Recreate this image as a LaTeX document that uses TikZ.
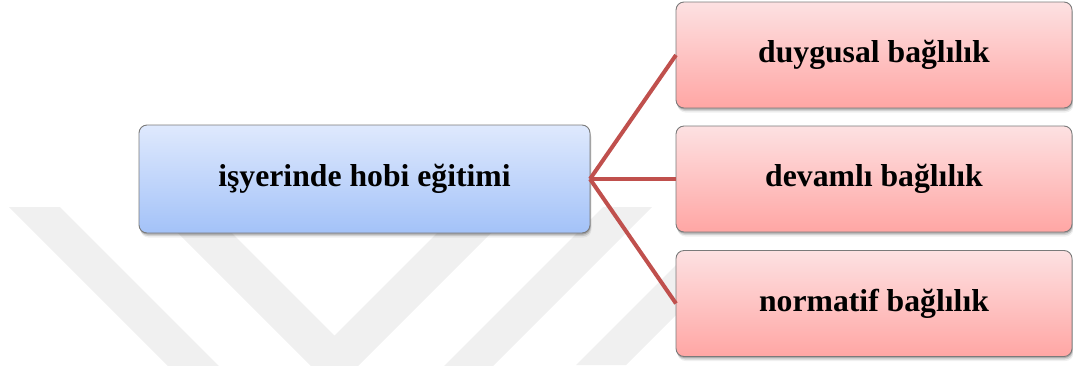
\documentclass[tikz,border=0pt]{standalone}
\usepackage{fontspec}
\setmainfont{Liberation Serif}
\usetikzlibrary{shadows}

\definecolor{linkred}{HTML}{C0504D}
\definecolor{bluetop}{HTML}{DFE9FD}
\definecolor{bluebot}{HTML}{A3C2F8}
\definecolor{pinktop}{HTML}{FDE1E2}
\definecolor{pinkbot}{HTML}{FFA6A4}
\definecolor{wmgray}{HTML}{F0F0F0}

\begin{document}
\begin{tikzpicture}[x=1pt,y=-1pt,
  softshadow/.style={
    drop shadow={shadow xshift=0.5pt, shadow yshift=-1.5pt, opacity=0.18, fill=black},
    drop shadow={shadow xshift=1pt, shadow yshift=-3pt, opacity=0.12, fill=black},
    drop shadow={shadow xshift=1.5pt, shadow yshift=-4.5pt, opacity=0.06, fill=black}},
  box/.style={rounded corners=8pt, draw=black!52, line width=0.9pt,
    minimum height=106pt, inner sep=0pt, outer sep=0pt,
    font=\fontsize{31.7}{36}\selectfont\bfseries, softshadow},
  causebox/.style={box, minimum width=451pt, minimum height=108pt,
    top color=bluetop, bottom color=bluebot},
  effectbox/.style={box, minimum width=396pt,
    top color=pinktop, bottom color=pinkbot},
  link/.style={draw=linkred, line width=4pt},
  band/.style={fill=wmgray}]

\useasboundingbox (0,0) rectangle (1073,365);

% faint chevron marks in the background
\begin{scope}
  \clip (0,0) rectangle (1073,365);
  \fill[band] (9,207) -- (60,207) -- (331.5,478.5) -- (603,207) -- (652,207)
              -- (330.5,528.5) -- cycle;
  \fill[band] (152,207) -- (206,207) -- (334.5,335.5) -- (463,207) -- (517,207)
              -- (334.5,389.5) -- cycle;
  \fill[band] (576,365) -- (626,365) -- (741,250) -- (691,250) -- cycle;
\end{scope}

% boxes
\node[causebox]  (cause) at (364.5,179)  {işyerinde hobi eğitimi};
\node[effectbox] (e1)    at (874,55)     {duygusal bağlılık};
\node[effectbox] (e2)    at (874,179)    {devamlı bağlılık};
\node[effectbox] (e3)    at (874,303.5)  {normatif bağlılık};

% connectors
\draw[link] (cause.east) -- (e1.west);
\draw[link] (cause.east) -- (e2.west);
\draw[link] (cause.east) -- (e3.west);
\end{tikzpicture}
\end{document}
